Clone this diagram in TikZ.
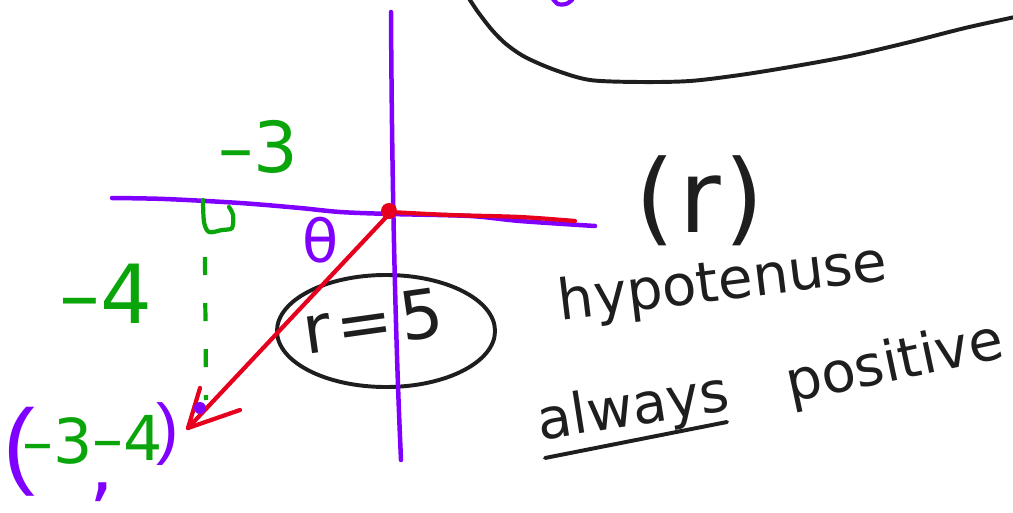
\documentclass[tikz,border=0pt]{standalone}
\usepackage{fontspec}
\setmainfont{DejaVu Sans}
\newfontfamily\thinparen{Liberation Sans}
\usetikzlibrary{shapes.geometric}
\definecolor{pur}{HTML}{7F00FF}
\definecolor{rd}{HTML}{E6001E}
\definecolor{gr}{HTML}{0AA50A}
\definecolor{ink}{HTML}{1E1E1E}
\newcommand\hsz[1]{\fontsize{#1}{#1}\selectfont}
\begin{document}
\begin{tikzpicture}[x=0.025cm,y=-0.025cm,
  axisline/.style={pur,line width=3.2pt,line cap=round,line join=round},
  redline/.style={rd,line width=3pt,line cap=round,line join=round},
  inkline/.style={ink,line width=2.8pt,line cap=round,line join=round},
  greendash/.style={gr,line width=3pt,dash pattern=on 0.45cm off 0.7cm},
  lbl/.style={inner sep=0pt,outer sep=0pt,anchor=base},
  greentxt/.style={lbl,text=gr},
  purtxt/.style={lbl,text=pur},
  inktxt/.style={lbl,text=ink}]
\useasboundingbox (0,0) rectangle (1013,513);
% named points
\coordinate (O) at (390,213);
\coordinate (P) at (188,428);
\coordinate (B1) at (240,410);
\coordinate (B2) at (200,388);
\coordinate (Rend) at (575,221);
\coordinate (Dt) at (205,257);
\coordinate (Db) at (206,400);
\coordinate (yt) at (391,12);
\coordinate (yb) at (401,460);
\coordinate (ul1) at (545,458);
\coordinate (ul2) at (727,422);
% top black curve
\draw[inkline] plot[smooth] coordinates {(468,-3) (478,12) (492,30) (506,44) (525,57) (555,70) (590,80) (640,82) (690,81) (740,75) (790,67) (850,56) (910,42) (965,28) (1015,17)};
\draw[pur,line width=3pt,line cap=round] plot[smooth] coordinates {(553,-1) (558,4) (566,4) (572,0)};
% ellipse with r=5
\node[ellipse,draw=ink,line width=2.8pt,minimum width=5.45cm,minimum height=2.8cm,inner sep=0pt] (ell) at (386,331) {};
\node[inktxt,rotate=8] (rtxt) at (376,345) {\hsz{48}r\kern4pt=\kern6pt5};
% axes
\draw[axisline] plot[smooth] coordinates {(112,198) (165,199) (240,203) (300,208) (340,212) (390,214) (470,216) (520,221) (595,226)};
\draw[axisline] (yt) .. controls (392,200) and (396,350) .. (yb);
% red vectors
\draw[redline] plot[smooth] coordinates {(390,212) (450,215) (520,217) (575,221)};
\fill[rd] (389,211) circle (8);
\draw[redline] (O) -- (P);
\draw[redline] (P) -- (B1);
\draw[redline] (P) -- (B2);
\fill[pur] (200,408) circle (6);
% green dashed and right-angle mark
\draw[greendash] (Dt) -- (Db);
\draw[gr,line width=3pt,line cap=round] plot[smooth] coordinates {(203,200) (204,222) (209,232) (222,230) (232,228) (233,215) (229,207)};
% labels
\node[greentxt] (m3) at (258,172) {\hsz{50}–3};
\node[greentxt] (m4) at (106,323) {\hsz{58}–4};
\node[purtxt] (th) at (321,262) {\hsz{42}θ};
\node[purtxt] (lp) at (19,476) {\thinparen\hsz{68}(};
\node[greentxt] (c3) at (58,463) {\hsz{44}–3};
\node[greentxt] (c4) at (128,460) {\hsz{44}–4};
\node[purtxt] (rp) at (168,451) {\thinparen\hsz{48})};
\node[purtxt] (cm) at (102,492) {\hsz{56},};
\node[inktxt] (rlab) at (700,232) {\hsz{72}(\kern3pt r\kern3pt)};
\node[inktxt,rotate=7] (hyp) at (725,300) {\hsz{40}hypotenuse};
\node[inktxt,rotate=9] (alw) at (636,425) {\hsz{40}always};
\node[inktxt,rotate=12] (pos) at (898,380) {\hsz{40}positive};
\draw[inkline] (ul1) -- (ul2);
\end{tikzpicture}
\end{document}
